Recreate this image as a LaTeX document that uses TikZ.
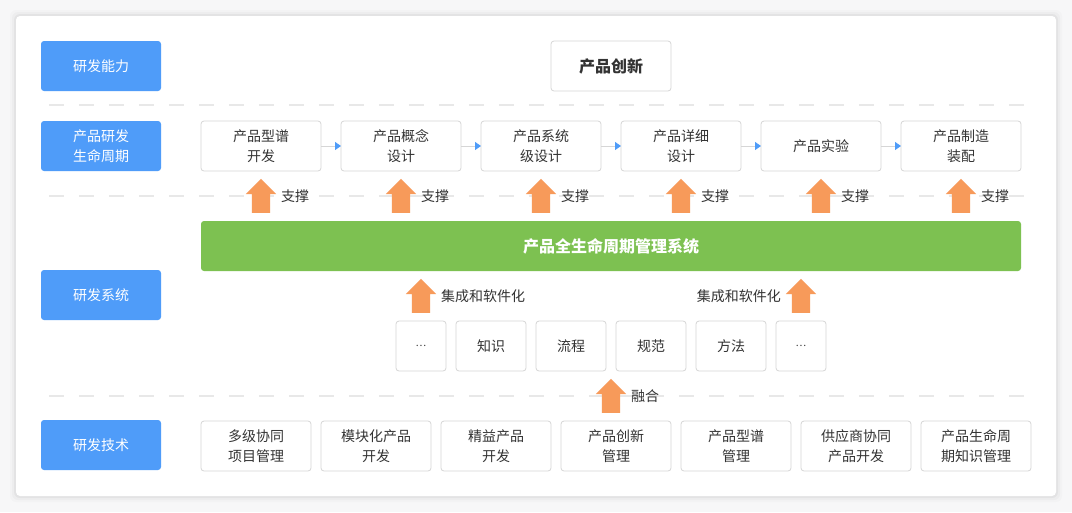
\documentclass[tikz,border=0pt]{standalone}
\usepackage{fontspec}
\setmainfont{Noto Sans CJK SC}
\usetikzlibrary{positioning,shapes.arrows,arrows.meta}
\definecolor{labblue}{HTML}{4F9CF9}
\definecolor{bargreen}{HTML}{7DC151}
\definecolor{arrorange}{HTML}{F79A5A}
\definecolor{boxgrey}{HTML}{D6D6D6}
\definecolor{sepgrey}{HTML}{E8E8E8}
\definecolor{txtgrey}{HTML}{333333}
\definecolor{bggrey}{HTML}{F7F7F8}

\begin{document}
\begin{tikzpicture}[
  x=1pt, y=-1pt,
  font=\fontsize{14}{20}\selectfont,
  box/.style={draw=boxgrey,line width=0.8pt,fill=white,rounded corners=3pt,align=center,outer sep=0pt,inner sep=2pt,text=txtgrey,minimum height=50pt},
  lab/.style={fill=labblue,rounded corners=3pt,align=center,text=white,minimum width=120pt,minimum height=50pt,outer sep=0pt},
  stage/.style={box,minimum width=120pt},
  part/.style={box,minimum width=70pt},
  tech/.style={box,minimum width=110pt},
  up/.style={single arrow,fill=arrorange,rotate=90,anchor=tail,minimum height=34pt,single arrow head extend=6pt,inner xsep=0pt,inner ysep=9pt},
  note/.style={text=txtgrey,inner sep=1pt},
  flow/.style={draw=boxgrey,line width=1pt,-{Triangle[length=6pt,width=8pt,color=labblue]}},
  sep/.style={draw=sepgrey,line width=2pt,dash pattern=on 15pt off 15pt}
]
\useasboundingbox (0,0) rectangle (1072,512);
\fill[bggrey] (0,0) rectangle (1072,512);
% card with soft shadow
\foreach \d/\o in {6/0.015,4/0.025,2/0.04}{
  \fill[black,opacity=\o,rounded corners=6pt] (16-\d,16-\d) rectangle (1056+\d,496+\d);
}
\fill[white,rounded corners=4pt] (16,16) rectangle (1056,496);

% separators
\draw[sep] (49,105) -- (1024,105);
\draw[sep] (49,196) -- (1024,196);
\draw[sep] (49,396) -- (1024,396);

% row labels
\node[lab] (L1) at (101,66) {研发能力};
\node[lab] (L2) at (101,146) {产品研发\\生命周期};
\node[lab] (L3) at (101,295) {研发系统};
\node[lab] (L4) at (101,445) {研发技术};

\node[stage,font=\fontsize{16}{20}\selectfont\bfseries] (top) at (611,66) {产品创新};

% lifecycle
\node[stage] (s1) at (261,146) {产品型谱\\开发};
\node[stage,right=20pt of s1] (s2) {产品概念\\设计};
\node[stage,right=20pt of s2] (s3) {产品系统\\级设计};
\node[stage,right=20pt of s3] (s4) {产品详细\\设计};
\node[stage,right=20pt of s4] (s5) {产品实验};
\node[stage,right=20pt of s5] (s6) {产品制造\\装配};
\path (s1) edge[flow] (s2)
(s2) edge[flow] (s3)
(s3) edge[flow] (s4)
(s4) edge[flow] (s5)
(s5) edge[flow] (s6);

\foreach \i in {1,...,6}{
  \node[up] (u\i) at ([yshift=-42pt]s\i.south) {};
  \node[note,anchor=west] at ([xshift=19pt,yshift=17pt]u\i.tail) {支撑};
}

% system bar
\node[fill=bargreen,rounded corners=3pt,minimum width=820pt,minimum height=50pt,text=white,
  font=\fontsize{16}{20}\selectfont\bfseries] (sys) at (611,246) {产品全生命周期管理系统};

% parts
\node[part,minimum width=50pt] (m1) at (421,346) {\fontsize{10}{12}\selectfont ⋯};
\node[part,right=10pt of m1] (m2) {知识};
\node[part,right=10pt of m2] (m3) {流程};
\node[part,right=10pt of m3] (m4) {规范};
\node[part,right=10pt of m4] (m5) {方法};
\node[part,minimum width=50pt,right=10pt of m5] (m6) {\fontsize{10}{12}\selectfont ⋯};

\node[up] (i1) at ([yshift=8pt]m1.north) {};
\node[note,anchor=west] at ([xshift=19pt,yshift=17pt]i1.tail) {集成和软件化};
\node[up] (i2) at ([yshift=8pt]m6.north) {};
\node[note,anchor=east] at ([xshift=-19pt,yshift=17pt]i2.tail) {集成和软件化};

% technologies
\node[tech] (t1) at (256,446) {多级协同\\项目管理};
\node[tech,right=10pt of t1] (t2) {模块化产品\\开发};
\node[tech,right=10pt of t2] (t3) {精益产品\\开发};
\node[tech,right=10pt of t3] (t4) {产品创新\\管理};
\node[tech,right=10pt of t4] (t5) {产品型谱\\管理};
\node[tech,right=10pt of t5] (t6) {供应商协同\\产品开发};
\node[tech,right=10pt of t6] (t7) {产品生命周\\期知识管理};

\node[up] (f1) at (611,413) {};
\node[note,anchor=west] at ([xshift=19pt,yshift=17pt]f1.tail) {融合};
\end{tikzpicture}
\end{document}
